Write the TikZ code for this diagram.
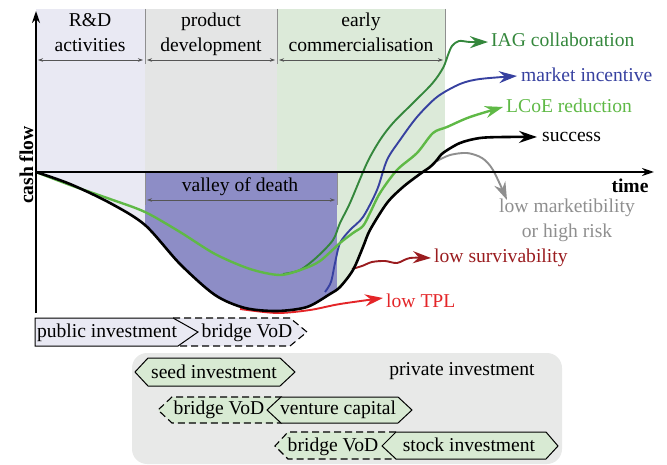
\documentclass[tikz,border=0pt]{standalone}
\usepackage{fontspec}
\setmainfont{Liberation Serif}
\usetikzlibrary{arrows.meta}
\definecolor{lav}{RGB}{233,233,243}
\definecolor{pgray}{RGB}{228,229,229}
\definecolor{pgreen}{RGB}{220,234,217}
\definecolor{vod}{RGB}{141,141,198}
\definecolor{privgray}{RGB}{232,233,232}
\definecolor{boxgreen}{RGB}{216,234,211}
\definecolor{dgreen}{RGB}{52,135,60}
\definecolor{cblue}{RGB}{55,65,160}
\definecolor{lgreen}{RGB}{95,185,70}
\definecolor{cgray}{RGB}{143,143,143}
\definecolor{dred}{RGB}{154,28,31}
\definecolor{cred}{RGB}{228,37,40}
\definecolor{dimgray}{RGB}{85,85,85}
\tikzset{
  txt/.style={inner sep=0pt, anchor=base},
  txtw/.style={inner sep=0pt, anchor=base west},
  bigtip/.style={-{Stealth[length=18pt,width=12pt,inset=6pt]}},
  cflow/.style={bigtip, line width=1.9pt},
  dimline/.style={draw=dimgray, line width=0.6pt, {Stealth[length=5pt,width=3.5pt]}-{Stealth[length=5pt,width=3.5pt]}},
  extline/.style={draw=cgray, line width=0.6pt},
  solidbox/.style={draw=black, line width=1pt, line join=miter},
  dashbox/.style={draw=black, line width=1.1pt, dash pattern=on 7pt off 4pt},
  axis/.style={draw=black, -{Stealth[length=12pt,width=8pt,inset=4pt]}}
}
\newcommand{\maincurve}{(36,172) (70,184) (110,203) (145,225) (180,264) (215,295) (245,308) (277,311) (307,307) (330,294) (340,287) (353,270) (363,247) (370,230) (387,203) (403,187) (420,174) (430,167) (437,160) (443,153) (460,143) (480,138) (505,137) (537,137)}
\begin{document}
\begin{tikzpicture}[x=1pt,y=-1pt, font=\fontsize{19.6}{23.5}\selectfont]
\useasboundingbox (0,0) rectangle (667,465);

% phase backgrounds
\fill[lav] (36,9) rectangle (145,316);
\fill[pgray] (145,9) rectangle (277,316);
\fill[pgreen] (277,9) rectangle (445,316);
% valley of death
\fill[vod] (145,172) rectangle (337,316);
% white below the main curve
\fill[white] plot[smooth, tension=0.5] coordinates {\maincurve} -- (537,316) -- (36,316) -- cycle;

% extension lines and dimension arrows
\draw[extline] (145,9) -- (145,64);
\draw[extline] (277,9) -- (277,64);
\draw[extline] (445,9) -- (445,64);
\draw[extline] (145,172) -- (145,205);
\draw[extline] (337,172) -- (337,205);
\coordinate (d1a) at (38,60); \coordinate (d1b) at (143,60);
\coordinate (d2a) at (147,60); \coordinate (d2b) at (275,60);
\coordinate (d3a) at (279,60); \coordinate (d3b) at (443,60);
\coordinate (d4a) at (147,200); \coordinate (d4b) at (335,200);
\draw[dimline] (d1a) -- (d1b);
\draw[dimline] (d2a) -- (d2b);
\draw[dimline] (d3a) -- (d3b);
\draw[dimline] (d4a) -- (d4b);

\node[txt] (rd1) at (90,27) {R\&D};
\node[txt] (rd2) at (90,52) {activities};
\node[txt] (pd1) at (211,27) {product};
\node[txt] (pd2) at (211,52) {development};
\node[txt] (ec1) at (361,27) {early};
\node[txt] (ec2) at (361,52) {commercialisation};
\node[txt] (vodl) at (240,192) {valley of death};

% private investment panel
\fill[privgray, rounded corners=15pt] (132,353) rectangle (562,464);
\node[txt] (priv) at (462,375) {private investment};

% row 1
\fill[lav] (173,318) -- (290,318) -- (307,332) -- (290,346) -- (178,346) -- (198,332) -- cycle;
\draw[dashbox] (173,318) -- (290,318) -- (307,332) -- (290,346) -- (178,346);
\filldraw[fill=lav, solidbox] (35,318) -- (173,318) -- (198,332) -- (178,346) -- (35,346) -- cycle;
\node[txt] (pub) at (107,337) {public investment};
\node[txt] (br1) at (247,337) {bridge VoD};

% row 2
\filldraw[fill=boxgreen, solidbox] (135,372) -- (148,358) -- (280,358) -- (295,372) -- (280,386) -- (148,386) -- cycle;
\node[txt] (seed) at (214,378) {seed investment};

% row 3
\fill[boxgreen] (158,410) -- (172,397) -- (282,397) -- (282,423) -- (172,423) -- cycle;
\draw[dashbox] (282,397) -- (172,397) -- (158,410) -- (172,423) -- (282,423);
\filldraw[fill=boxgreen, solidbox] (267,410) -- (281,397) -- (398,397) -- (412,410) -- (398,423) -- (281,423) -- cycle;
\node[txt] (br2) at (219,414) {bridge VoD};
\node[txt] (vc) at (338,414) {venture capital};

% row 4
\fill[boxgreen] (275,446) -- (288,432) -- (396,432) -- (396,459) -- (288,459) -- cycle;
\draw[dashbox] (396,432) -- (288,432) -- (275,446) -- (288,459) -- (396,459);
\filldraw[fill=boxgreen, solidbox] (382,446) -- (396,432) -- (546,432) -- (558,446) -- (546,459) -- (396,459) -- cycle;
\node[txt] (br3) at (333,451) {bridge VoD};
\node[txt] (stock) at (469,451) {stock investment};

% curves
\draw[cflow, dgreen] plot[smooth, tension=0.5] coordinates {(283,274) (300,270) (317,257) (333,240) (340,223) (350,203) (367,163) (380,140) (393,123) (413,103) (430,86) (438,76) (444,66) (448,55) (452,46) (459,41) (470,42) (488,42)};
\draw[cflow, cblue] plot[smooth, tension=0.5] coordinates {(325,292) (331,282) (335,263) (340,243) (350,230) (363,217) (377,190) (387,160) (400,140) (417,117) (437,97) (460,84) (480,79) (517,76)};
\draw[cflow, lgreen, line width=2.4pt] plot[smooth, tension=0.5] coordinates {(36,172) (70,185) (110,199) (145,212) (180,232) (215,254) (250,269) (280,275) (303,269) (320,261) (340,243) (353,233) (363,226) (370,213) (380,193) (397,170) (417,153) (433,133) (447,127) (470,117) (503,107)};
\draw[cflow, cred] plot[smooth, tension=0.5] coordinates {(240,309) (277,313) (310,310) (340,304) (383,298)};
\draw[cflow, dred] plot[smooth, tension=0.5] coordinates {(352,269) (362,266) (372,262) (385,261) (397,263) (410,258) (431,258)};
\draw[cflow, cgray] plot[smooth, tension=0.5] coordinates {(437,161) (450,155) (467,153) (482,158) (493,170) (507,200)};
\draw[bigtip, black, line width=2.6pt] plot[smooth, tension=0.5] coordinates {\maincurve};

% axes
\coordinate (o) at (36,172);
\coordinate (ytop) at (36,11);
\coordinate (ybot) at (36,313);
\coordinate (xend) at (654,172);
\draw[axis, line width=2pt] (ybot) -- (ytop);
\draw[axis, line width=1.8pt] (o) -- (xend);
\node[txt, font=\fontsize{19.6}{23.5}\selectfont\bfseries] (time) at (630,193) {time};
\node[txt, rotate=90, font=\fontsize{19.6}{23.5}\selectfont\bfseries] (cash) at (33,165) {cash flow};

% outcome labels
\node[txtw, text=dgreen] (iag) at (491,47) {IAG collaboration};
\node[txtw, text=cblue] (mkt) at (521,82) {market incentive};
\node[txtw, text=lgreen] (lcoe) at (506,113) {LCoE reduction};
\node[txtw] (succ) at (542,142) {success};
\node[txt, text=cgray] (lm1) at (567,213) {low marketibility};
\node[txt, text=cgray] (lm2) at (567,238) {or high risk};
\node[txtw, text=dred] (lsurv) at (434,263) {low survivability};
\node[txtw, text=cred] (ltpl) at (386,307) {low TPL};
\end{tikzpicture}
\end{document}
